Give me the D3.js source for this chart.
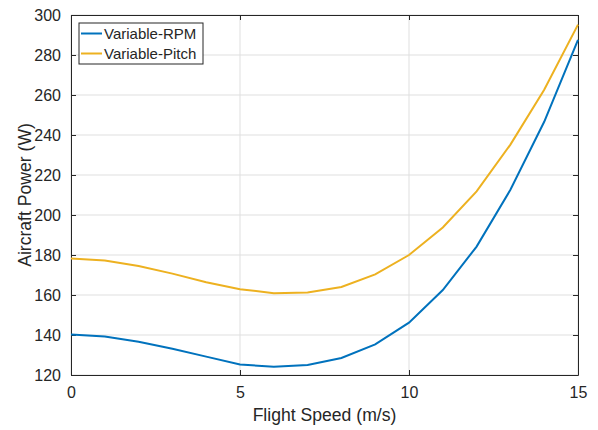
<!DOCTYPE html>
<html>
<head>
<meta charset="utf-8">
<script src="https://cdn.jsdelivr.net/npm/d3@7"></script>
<style>
  body { margin: 0; background: #fff; }
  text { font-family: "Liberation Sans", Arial, Helvetica, sans-serif; fill: #262626; }
</style>
</head>
<body>
<div id="wrapper"></div>
<script>
(function () {
  "use strict";

  // DATA
  const speeds = [0, 1, 2, 3, 4, 5, 6, 7, 8, 9, 10, 11, 12, 13, 14, 15]
  const rpmPower = [140.3, 139.2, 136.6, 133.1, 129.2, 125.3, 124.1, 125, 128.5, 135.3, 146.2, 162.5, 184.2, 212.6, 246.6, 287.6]
  const pitchPower = [178.3, 177.3, 174.5, 170.7, 166.4, 162.9, 160.9, 161.2, 164, 170.3, 180, 193.8, 211.8, 235.2, 262.6, 295.2]
  const seriesNames = ["Variable-RPM", "Variable-Pitch"]
  const seriesColors = ["#0072BD", "#EDB120"]
  const xTicks = [0, 5, 10, 15]
  const yTicks = [120, 140, 160, 180, 200, 220, 240, 260, 280, 300]

  const series = [
    { name: seriesNames[0], color: seriesColors[0], values: rpmPower },
    { name: seriesNames[1], color: seriesColors[1], values: pitchPower }
  ]

  // DIMENSIONS
  let dimensions = {
    width: 598,
    height: 430,
    margin: { top: 15, right: 20, bottom: 55, left: 71 }
  }
  dimensions.boundedWidth = dimensions.width - dimensions.margin.left - dimensions.margin.right
  dimensions.boundedHeight = dimensions.height - dimensions.margin.top - dimensions.margin.bottom

  const wrapper = d3.select("#wrapper").append("svg")
    .attr("width", dimensions.width)
    .attr("height", dimensions.height)

  const bounds = wrapper.append("g")
    .attr("transform", `translate(${dimensions.margin.left},${dimensions.margin.top})`)

  // SCALES
  const xScale = d3.scaleLinear()
    .domain([0, 15])
    .range([0, dimensions.boundedWidth])

  const yScale = d3.scaleLinear()
    .domain([120, 300])
    .range([dimensions.boundedHeight, 0])

  // GRID
  const grid = bounds.append("g")
  grid.selectAll(".vgrid").data(xTicks).join("line")
    .attr("x1", d => xScale(d)).attr("x2", d => xScale(d))
    .attr("y1", 0).attr("y2", dimensions.boundedHeight)
    .attr("stroke", "#dfdfdf").attr("stroke-width", 1)
  grid.selectAll(".hgrid").data(yTicks).join("line")
    .attr("y1", d => yScale(d)).attr("y2", d => yScale(d))
    .attr("x1", 0).attr("x2", dimensions.boundedWidth)
    .attr("stroke", "#dfdfdf").attr("stroke-width", 1)

  // AXES (MATLAB style: inward ticks, box on)
  const tickLen = 5
  const xAxisGenerator = d3.axisBottom(xScale).tickValues(xTicks).tickSizeInner(-tickLen).tickSizeOuter(0).tickPadding(12)
  const yAxisGenerator = d3.axisLeft(yScale).tickValues(yTicks).tickSizeInner(-tickLen).tickSizeOuter(0).tickPadding(10)

  const xAxis = bounds.append("g")
    .attr("transform", `translate(0,${dimensions.boundedHeight})`)
    .call(xAxisGenerator)
  const yAxis = bounds.append("g").call(yAxisGenerator)

  const xAxisTop = bounds.append("g")
    .call(d3.axisTop(xScale).tickValues(xTicks).tickSizeInner(-tickLen).tickSizeOuter(0).tickFormat(""))
  const yAxisRight = bounds.append("g")
    .attr("transform", `translate(${dimensions.boundedWidth},0)`)
    .call(d3.axisRight(yScale).tickValues(yTicks).tickSizeInner(-tickLen).tickSizeOuter(0).tickFormat(""))

  ;[xAxis, yAxis, xAxisTop, yAxisRight].forEach(ax => {
    ax.select(".domain").attr("stroke", "#262626").attr("stroke-width", 1)
    ax.selectAll(".tick line").attr("stroke", "#262626")
    ax.selectAll(".tick text").style("font-size", "16px").attr("fill", "#262626")
  })

  // LINES
  const lineGenerator = (values) => d3.line()
    .x((d, i) => xScale(speeds[i]))
    .y(d => yScale(d))(values)

  bounds.selectAll(".series").data(series).join("path")
    .attr("d", d => lineGenerator(d.values))
    .attr("fill", "none")
    .attr("stroke", d => d.color)
    .attr("stroke-width", 2)

  // LABELS
  wrapper.append("text")
    .attr("x", dimensions.margin.left + dimensions.boundedWidth / 2)
    .attr("y", 421)
    .attr("text-anchor", "middle")
    .style("font-size", "17.6px")
    .text("Flight Speed (m/s)")

  wrapper.append("text")
    .attr("transform", `translate(31,${dimensions.margin.top + dimensions.boundedHeight / 2}) rotate(-90)`)
    .attr("text-anchor", "middle")
    .style("font-size", "17.6px")
    .text("Aircraft Power (W)")

  // LEGEND
  const legend = bounds.append("g").attr("transform", "translate(8,8)")
  legend.append("rect")
    .attr("x", 0).attr("y", 0)
    .attr("width", 124).attr("height", 41)
    .attr("fill", "#fff")
    .attr("stroke", "#262626").attr("stroke-width", 1)
  const items = legend.selectAll(".item").data(series).join("g")
    .attr("transform", (d, i) => `translate(0,${10.5 + i * 20})`)
  items.append("line")
    .attr("x1", 2).attr("x2", 23)
    .attr("stroke", d => d.color).attr("stroke-width", 2)
  items.append("text")
    .attr("x", 25).attr("dy", "0.35em")
    .style("font-size", "15px")
    .text(d => d.name)
})();
</script>
</body>
</html>
